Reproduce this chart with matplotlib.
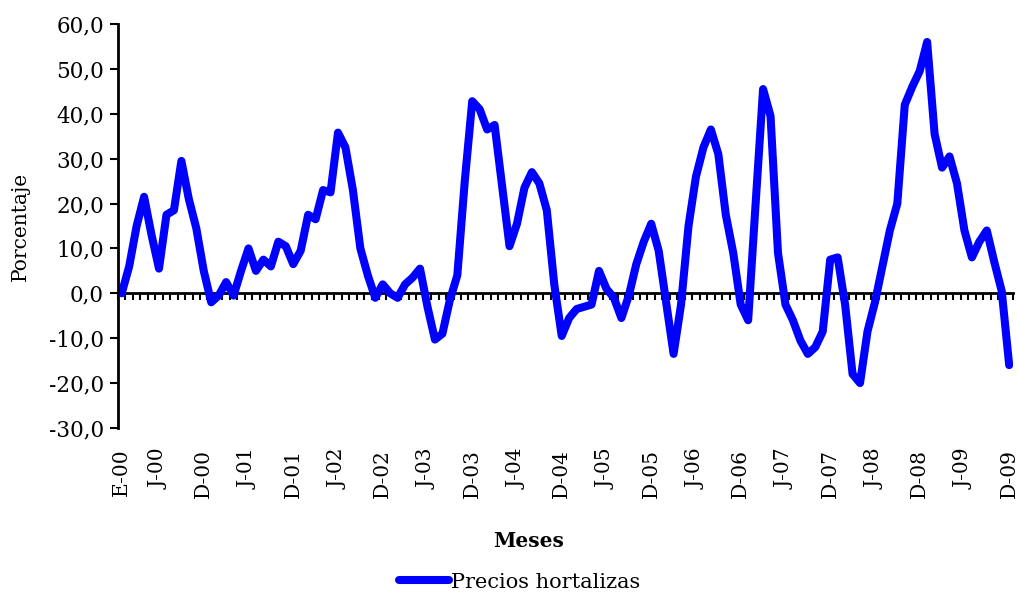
import matplotlib
matplotlib.use("Agg")
import matplotlib.pyplot as plt

# variacion anual precios hortalizas, ene-2000 a dic-2009
precios = [0, 6, 15, 21.5, 13, 5.5, 17.5, 18.5, 29.5, 21, 14.5, 5,
           -2, -0.5, 2.5, -0.5, 5, 10, 5, 7.5, 6, 11.5, 10.5, 6.5,
           9.5, 17.5, 16.5, 23, 22.5, 35.8, 32.5, 23, 10, 4, -1, 2,
           0, -1, 2, 3.5, 5.5, -3, -10.3, -9, -1.5, 4, 25, 42.8,
           41, 36.5, 37.5, 24, 10.5, 15.5, 23.5, 27, 24.5, 18.5, 2, -9.5,
           -5.5, -3.5, -3, -2.5, 5, 1, -1, -5.5, -0.5, 6.5, 11.5, 15.5,
           9.5, -2, -13.5, -2.5, 15, 26, 32.5, 36.5, 31, 17.5, 9, -2.5,
           -6, 20, 45.5, 39.5, 9, -2.5, -6, -10.5, -13.5, -12, -8.5, 7.5,
           8, -2.5, -18, -20, -8.5, -2, 6, 14, 20, 42, 46, 49.5,
           56, 35.5, 28, 30.5, 24.5, 14, 8, 11.5, 14, 7, 0.5, -16]
meses = list(range(len(precios)))

etiq_pos = [0, 5, 11, 17, 23, 29, 35, 41, 47, 53, 59, 65, 71, 77, 83,
            89, 95, 101, 107, 113, 119]
etiquetas = ["E-00", "J-00", "D-00", "J-01", "D-01", "J-02", "D-02", "J-03",
             "D-03", "J-04", "D-04", "J-05", "D-05", "J-06", "D-06", "J-07",
             "D-07", "J-08", "D-08", "J-09", "D-09"]
yticks = [-30, -20, -10, 0, 10, 20, 30, 40, 50, 60]

plt.rcParams['font.family'] = ['DejaVu Serif']

fig = plt.figure(figsize=(10.18, 5.94), dpi=100)
ax = fig.add_axes([0.1159, 0.2795, 0.8791, 0.6801])

ax.plot(meses, precios, color="#0000FF", lw=5.8, solid_joinstyle="round",
        solid_capstyle="round", label="Precios hortalizas")

ax.set_xlim(-0.5, 119.5)
ax.set_ylim(-30, 60)
ax.set_yticks(yticks)
ax.set_yticklabels([("%.1f" % v).replace(".", ",") for v in yticks], fontsize=15.5)
ax.tick_params(axis="y", direction="out", length=6, width=1.5, pad=4)

ax.set_xticks(etiq_pos)
ax.set_xticklabels(etiquetas, rotation=90, fontsize=14.5)
ax.tick_params(axis="x", length=0, pad=15)

for s in ["top", "right", "bottom"]:
    ax.spines[s].set_visible(False)
ax.spines["left"].set_linewidth(2)

# eje de categorias sobre el cero
sec = ax.secondary_xaxis(30 / 90)
sec.set_xticks([m - 0.5 for m in meses] + [119.5])
sec.set_xticklabels([])
sec.tick_params(direction="out", length=5, width=1.5)
sec.spines["bottom"].set_linewidth(2)

ax.set_ylabel("Porcentaje", fontsize=14.5, labelpad=14)
fig.text(0.519, 0.09, "Meses", fontsize=14.5, fontweight="bold", ha="center", va="center")

fig.legend(loc="center", bbox_to_anchor=(0.51, 0.02), frameon=False, fontsize=15,
           handlelength=2.4, handletextpad=0.1)

fig.savefig("out.png", dpi=100)
